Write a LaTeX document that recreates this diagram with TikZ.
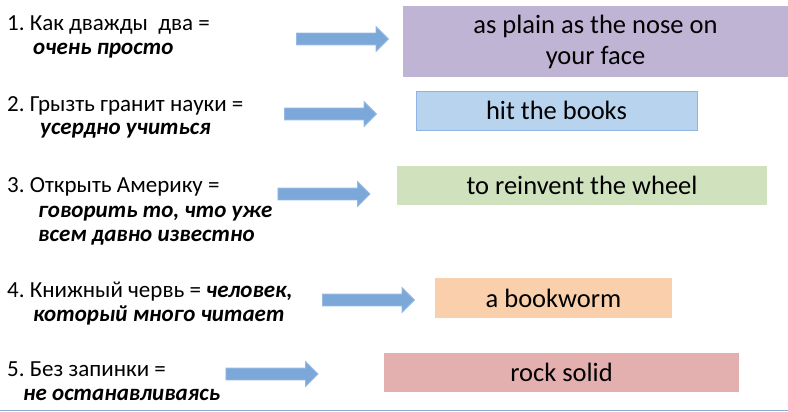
\documentclass[tikz,border=0pt]{standalone}
\usepackage{fontspec}
\setmainfont{Carlito}
\usetikzlibrary{shapes.arrows}
\definecolor{arrowblue}{RGB}{123,167,217}
\definecolor{arrowedge}{RGB}{150,186,227}
\definecolor{boxpurple}{RGB}{192,180,212}
\definecolor{boxblue}{RGB}{184,211,237}
\definecolor{boxblueedge}{RGB}{141,180,226}
\definecolor{boxgreen}{RGB}{207,226,189}
\definecolor{boxorange}{RGB}{250,207,172}
\definecolor{boxpink}{RGB}{227,176,175}
\definecolor{ruleblue}{RGB}{140,176,214}
\frenchspacing
\begin{document}
\begin{tikzpicture}[x=1pt, y=-1pt,
    ru/.style={anchor=base west, inner sep=0pt, font=\fontsize{23}{27}\selectfont},
    idiom/.style={inner sep=0pt, align=center, font=\fontsize{26.5}{31}\selectfont},
    blockarrow/.style={single arrow, fill=arrowblue, draw=arrowedge, line width=0.8pt,
      inner xsep=0pt, inner ysep=5.5pt, minimum width=24pt, minimum height=92pt,
      single arrow head extend=6.5pt}]
  \useasboundingbox (0,0) rectangle (788,412);
  \node[ru] (q1)  at (7,31)  {1. Как дважды~ два =};
  \node[ru] (q1b) at (33,55) {\textbf{\textit{очень просто}}};
  \node[ru] (q2)  at (7,111) {2. Грызть гранит науки =};
  \node[ru] (q2b) at (40,135) {\textbf{\textit{усердно учиться}}};
  \node[ru] (q3)  at (7,192) {3. Открыть Америку =};
  \node[ru] (q3b) at (38,217) {\textbf{\textit{говорить то, что уже}}};
  \node[ru] (q3c) at (38,241) {\textbf{\textit{всем давно известно}}};
  \node[ru] (q4)  at (7,297) {4. Книжный червь = \textbf{\textit{человек,}}};
  \node[ru] (q4b) at (33,321) {\textbf{\textit{который много читает}}};
  \node[ru] (q5)  at (7,376) {5. Без запинки =};
  \node[ru] (q5b) at (23,400) {\textbf{\textit{не останавливаясь}}};
  \node[blockarrow] (a1) at (339.5,39) {};
  \node[blockarrow] (a2) at (327.5,114) {};
  \node[blockarrow] (a3) at (321,194) {};
  \node[blockarrow] (a4) at (365.5,300) {};
  \node[blockarrow] (a5) at (269,374) {};
  \node[idiom, fill=boxpurple, minimum width=385pt, minimum height=71pt] (e1) at (595.5,41.5) {as plain as the nose on\\your face};
  \node[idiom, fill=boxblue, draw=boxblueedge, line width=0.8pt, minimum width=281pt, minimum height=39pt] (e2) at (556.5,110.5) {hit the books};
  \node[idiom, fill=boxgreen, minimum width=370pt, minimum height=39pt] (e3) at (582,185.5) {to reinvent the wheel};
  \node[idiom, fill=boxorange, minimum width=237pt, minimum height=40pt] (e4) at (553.5,298) {a bookworm};
  \node[idiom, fill=boxpink, minimum width=355pt, minimum height=39pt] (e5) at (561.5,372.5) {rock solid};
  \draw[ruleblue, line width=1pt] (0,410.5) -- (788,410.5);
\end{tikzpicture}
\end{document}
